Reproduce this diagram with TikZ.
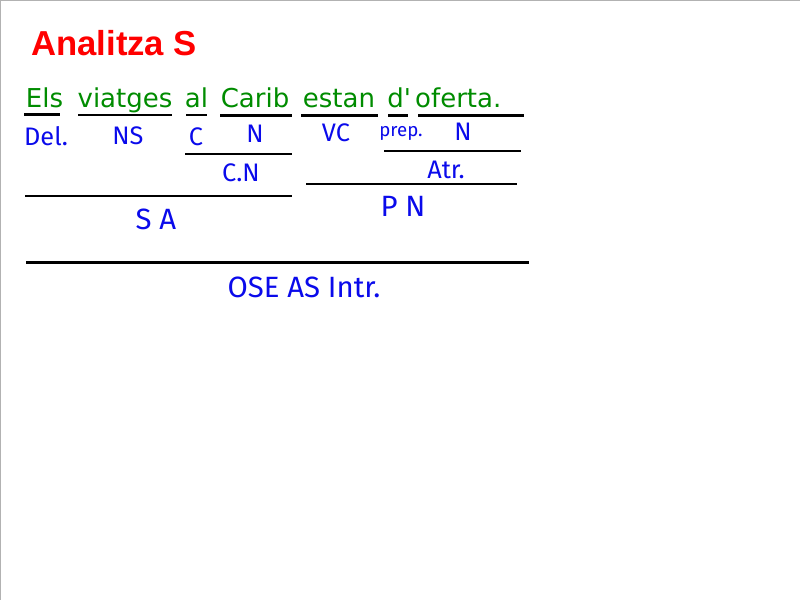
\documentclass[tikz,border=0pt]{standalone}
\usepackage{fontspec}
\setmainfont{Liberation Sans}
\newfontfamily\wordfont{DejaVu Sans}
\newfontfamily\handfont{Fira Sans}
\definecolor{titlered}{RGB}{255,0,0}
\definecolor{wordgreen}{RGB}{0,140,0}
\definecolor{handblue}{RGB}{10,10,235}
\begin{document}
\begin{tikzpicture}[x=0.75pt,y=-0.75pt,
  titlestyle/.style={anchor=base west,inner sep=0pt,text=titlered,font=\fontsize{26}{30}\selectfont\bfseries},
  wordstyle/.style={anchor=base,inner sep=0pt,text=wordgreen,font=\wordfont\fontsize{19.5}{22}\selectfont},
  handstyle/.style={anchor=center,inner sep=0pt,text=handblue,font=\handfont\fontsize{19}{22}\selectfont},
  bighand/.style={handstyle,font=\handfont\fontsize{22}{26}\selectfont},
  uline/.style={line width=2.2pt,black},
  sline/.style={line width=2.2pt,black}]
\useasboundingbox (0,0) rectangle (800,600);
\fill[white] (0,0) rectangle (800,600);
\draw[gray!60,line width=1.5pt] (0,600) -- (0,0) -- (800,0);
% title
\node[titlestyle] (title) at (31,55) {Analitza S};
% sentence words
\node[wordstyle] (w1) at (44.5,107) {Els};
\node[wordstyle] (w2) at (125,107) {viatges};
\node[wordstyle] (w3) at (196.5,107) {al};
\node[wordstyle] (w4) at (255,107) {Carib};
\node[wordstyle] (w5) at (339,107) {estan};
\node[wordstyle,anchor=base west] (w6) at (387,107) {d'\,oferta.};
% underlines
\coordinate (u1a) at (24,114.5); \coordinate (u1b) at (60,114.5);
\coordinate (u2a) at (78,115); \coordinate (u2b) at (172,115);
\coordinate (u3a) at (186,115); \coordinate (u3b) at (207,115);
\coordinate (u4a) at (220,115.5); \coordinate (u4b) at (292,115.5);
\coordinate (u5a) at (301,115.5); \coordinate (u5b) at (378,115.5);
\coordinate (u6a) at (388,115.5); \coordinate (u6b) at (408,115.5);
\coordinate (u7a) at (418,115.5); \coordinate (u7b) at (524,115.5);
\foreach \i in {1,...,7} {\draw[uline] (u\i a) -- (u\i b);}
% first level labels
\node[handstyle] (del) at (46,136) {Del.};
\node[handstyle] (ns) at (128,136) {NS};
\node[handstyle] (c) at (196,137) {C};
\node[handstyle] (n1) at (255,134) {N};
\node[handstyle] (vc) at (336,133) {VC};
\node[handstyle,font=\handfont\fontsize{14}{16}\selectfont] (prep) at (401,133) {prep.};
\node[handstyle] (n2) at (463,132) {N};
% second level
\coordinate (cna) at (185,154); \coordinate (cnb) at (292,154);
\draw[sline] (cna) -- (cnb);
\node[handstyle] (cn) at (241,173) {C.N};
\coordinate (atra) at (384,151); \coordinate (atrb) at (521,151);
\draw[sline] (atra) -- (atrb);
\node[handstyle] (atr) at (446,170) {Atr.};
% third level
\coordinate (saa) at (25,196); \coordinate (sab) at (292,196);
\draw[sline] (saa) -- (sab);
\node[bighand] (sa) at (156,219) {S A};
\coordinate (pna) at (306,184); \coordinate (pnb) at (517,184);
\draw[sline] (pna) -- (pnb);
\node[bighand] (pn) at (403,206) {P N};
% fourth level
\coordinate (osa) at (26,262.5); \coordinate (osb) at (529,262.5);
\draw[sline] (osa) -- (osb);
\node[bighand] (ose) at (304,287) {OSE AS Intr.};
\end{tikzpicture}
\end{document}
